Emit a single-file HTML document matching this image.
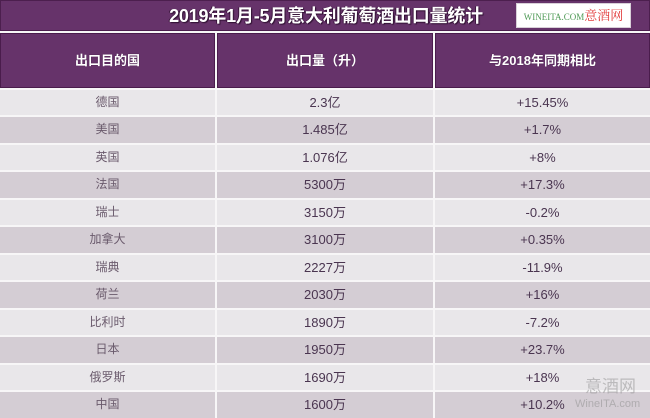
<!DOCTYPE html>
<html>
<head>
<meta charset="utf-8">
<style>
  html,body{margin:0;padding:0;}
  body{width:650px;height:418px;position:relative;overflow:hidden;background:#f7f6f7;
    font-family:"Liberation Sans","Noto Sans CJK SC",sans-serif;}
  .abs{position:absolute;}
  .title{left:0;top:0;width:650px;height:31px;background:#66336a;box-sizing:border-box;border:1px solid #4c1f4e;}
  .title .t{position:absolute;left:0;width:650px;top:0;height:31px;line-height:31px;text-align:center;
    color:#fff;font-weight:bold;font-size:18px;text-shadow:1px 1px 1px #2e0f30, -1px 0 0 #3a153c;letter-spacing:-0.2px;}
  .logo{left:516px;top:3px;width:115px;height:25px;background:#fff;border:1px solid #d8d0d8;box-sizing:border-box;
    line-height:24px;text-align:center;white-space:nowrap;}
  .logo .w{font-family:"Liberation Serif","Noto Serif CJK SC",serif;font-size:9px;color:#4f9a56;}
  .logo .c{font-family:"Liberation Serif","Noto Serif CJK SC",serif;font-size:13px;color:#e23a3a;}
  .hd{top:33px;height:55px;background:#66336a;box-sizing:border-box;border:1px solid #4a1c4c;
    color:#fff;font-weight:bold;font-size:13px;line-height:53px;text-align:center;text-shadow:0 0 1px #3a153c;}
  .cell{height:25.5px;line-height:25.5px;text-align:center;font-size:13px;color:#4a3550;}
  .cn{font-size:12px;color:#6a5a6c;}
  .l{background:#e9e7ea;}
  .d{background:#d4cdd4;}
  .wm1{left:585px;top:375px;font-size:17px;color:rgba(150,150,150,0.55);font-family:"Noto Sans CJK SC",sans-serif;line-height:20px;}
  .wm2{left:575px;top:398px;font-size:11px;color:rgba(150,150,150,0.6);line-height:13px;}
</style>
</head>
<body>
<div class="abs title"><div class="t">2019年1月-5月意大利葡萄酒出口量统计</div></div>
<div class="abs logo"><span class="w">WINEITA.COM</span><span class="c">意酒网</span></div>

<div class="abs hd" style="left:0;width:215px;">出口目的国</div>
<div class="abs hd" style="left:217px;width:216px;">出口量（升）</div>
<div class="abs hd" style="left:435px;width:215px;">与2018年同期相比</div>

<div id="rows"></div>

<!-- rows -->
<div class="abs cell cn l" style="left:0;width:215px;top:89.5px;">德国</div>
<div class="abs cell l" style="left:217px;width:216px;top:89.5px;">2.3亿</div>
<div class="abs cell l" style="left:435px;width:215px;top:89.5px;">+15.45%</div>

<div class="abs cell cn d" style="left:0;width:215px;top:117px;">美国</div>
<div class="abs cell d" style="left:217px;width:216px;top:117px;">1.485亿</div>
<div class="abs cell d" style="left:435px;width:215px;top:117px;">+1.7%</div>

<div class="abs cell cn l" style="left:0;width:215px;top:144.5px;">英国</div>
<div class="abs cell l" style="left:217px;width:216px;top:144.5px;">1.076亿</div>
<div class="abs cell l" style="left:435px;width:215px;top:144.5px;">+8%</div>

<div class="abs cell cn d" style="left:0;width:215px;top:172px;">法国</div>
<div class="abs cell d" style="left:217px;width:216px;top:172px;">5300万</div>
<div class="abs cell d" style="left:435px;width:215px;top:172px;">+17.3%</div>

<div class="abs cell cn l" style="left:0;width:215px;top:199.5px;">瑞士</div>
<div class="abs cell l" style="left:217px;width:216px;top:199.5px;">3150万</div>
<div class="abs cell l" style="left:435px;width:215px;top:199.5px;">-0.2%</div>

<div class="abs cell cn d" style="left:0;width:215px;top:227px;">加拿大</div>
<div class="abs cell d" style="left:217px;width:216px;top:227px;">3100万</div>
<div class="abs cell d" style="left:435px;width:215px;top:227px;">+0.35%</div>

<div class="abs cell cn l" style="left:0;width:215px;top:254.5px;">瑞典</div>
<div class="abs cell l" style="left:217px;width:216px;top:254.5px;">2227万</div>
<div class="abs cell l" style="left:435px;width:215px;top:254.5px;">-11.9%</div>

<div class="abs cell cn d" style="left:0;width:215px;top:282px;">荷兰</div>
<div class="abs cell d" style="left:217px;width:216px;top:282px;">2030万</div>
<div class="abs cell d" style="left:435px;width:215px;top:282px;">+16%</div>

<div class="abs cell cn l" style="left:0;width:215px;top:309.5px;">比利时</div>
<div class="abs cell l" style="left:217px;width:216px;top:309.5px;">1890万</div>
<div class="abs cell l" style="left:435px;width:215px;top:309.5px;">-7.2%</div>

<div class="abs cell cn d" style="left:0;width:215px;top:337px;">日本</div>
<div class="abs cell d" style="left:217px;width:216px;top:337px;">1950万</div>
<div class="abs cell d" style="left:435px;width:215px;top:337px;">+23.7%</div>

<div class="abs cell cn l" style="left:0;width:215px;top:364.5px;">俄罗斯</div>
<div class="abs cell l" style="left:217px;width:216px;top:364.5px;">1690万</div>
<div class="abs cell l" style="left:435px;width:215px;top:364.5px;">+18%</div>

<div class="abs cell cn d" style="left:0;width:215px;top:392px;">中国</div>
<div class="abs cell d" style="left:217px;width:216px;top:392px;">1600万</div>
<div class="abs cell d" style="left:435px;width:215px;top:392px;">+10.2%</div>

<div class="abs wm1">意酒网</div>
<div class="abs wm2">WineITA.com</div>
</body>
</html>
